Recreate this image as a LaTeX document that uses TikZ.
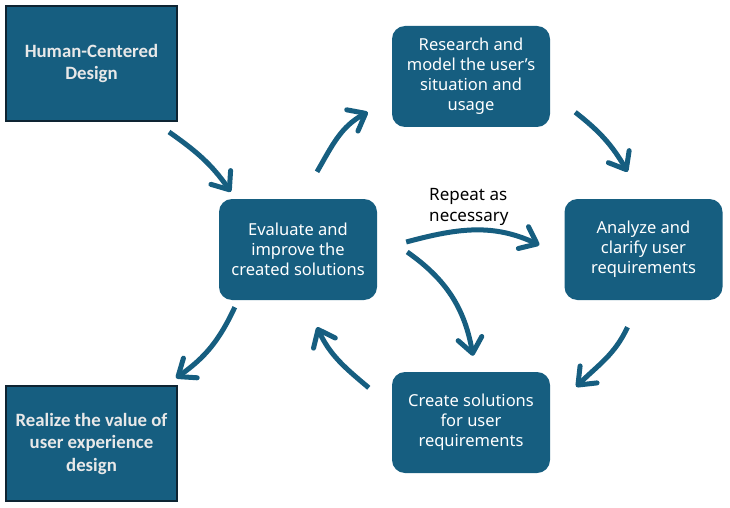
\documentclass[tikz,border=0pt]{standalone}
\usepackage{fontspec}
\setmainfont{Noto Sans}
\newfontfamily\calfont{Carlito}
\usetikzlibrary{arrows.meta}
\definecolor{hcdblue}{RGB}{22,94,128}
\definecolor{hcdedge}{RGB}{14,36,50}
\definecolor{hcdtext}{RGB}{232,232,232}

\begin{document}
\begin{tikzpicture}[
  x=1pt, y=1pt,
  box/.style={fill=hcdblue, rounded corners=13pt, align=center, text=white,
    minimum width=158pt, minimum height=101pt, inner sep=0pt,
    font=\fontsize{16.5}{20}\selectfont},
  endbox/.style={fill=hcdblue, draw=hcdedge, line width=2pt, align=center,
    text=hcdtext, minimum width=171pt, minimum height=115pt, inner sep=0pt,
    font=\calfont\bfseries\fontsize{18.8}{22.5}\selectfont},
  arr/.style={-{Straight Barb[length=15pt, width=24pt, round]}, draw=hcdblue,
    line width=5pt},
  lab/.style={font=\fontsize{17}{21}\selectfont, align=left, text=black,
    inner sep=0pt}
]
\useasboundingbox (0,0) rectangle (730,507);
\node[endbox] (hcd) at (91.5,443.5) {Human-Centered\\Design};
\node[endbox] (real) at (91.5,63.5) {Realize the value of\\user experience\\design};
\node[box] (res) at (471,430.5) {Research and\\model the user's\\situation and\\usage};
\node[box] (ana) at (643.5,257.5) {Analyze and\\clarify user\\requirements};
\node[box] (cre) at (471,84.5) {Create solutions\\for user\\requirements};
\node[box] (eva) at (298,257.5) {Evaluate and\\improve the\\created solutions};
% cycle arrows
\draw[arr] ([xshift=-9pt,yshift=-10pt]hcd.south east) to[out=-35,in=125]
  ([xshift=12pt,yshift=7pt]eva.north west);
\draw[arr] ([xshift=19pt,yshift=27pt]eva.north) to[out=60,in=-152]
  ([xshift=-24pt,yshift=15pt]res.south west);
\draw[arr] ([xshift=25pt,yshift=15pt]res.south east) to[out=-38,in=120]
  ([xshift=-16pt,yshift=27pt]ana.north);
\draw[arr] ([xshift=-16pt,yshift=-27pt]ana.south) to[out=-115,in=45]
  ([xshift=26pt,yshift=-15pt]cre.north east);
\draw[arr] ([xshift=-23pt,yshift=-16pt]cre.north west) to[out=140,in=-65]
  ([xshift=19pt,yshift=-27pt]eva.south);
\draw[arr] ([xshift=16pt,yshift=-7pt]eva.south west) to[out=-115,in=35]
  ([xshift=-2pt,yshift=7pt]real.north east);
% repeat loop
\draw[arr] ([xshift=29pt,yshift=7.5pt]eva.east) to[out=15,in=155]
  node[above=2pt, xshift=-5pt, lab] (rep) {Repeat as\\necessary}
  ([xshift=-25pt,yshift=4.5pt]ana.west);
\draw[arr] ([xshift=30pt,yshift=-2.5pt]eva.east) to[out=-35,in=100]
  ([xshift=2pt,yshift=16pt]cre.north);
\end{tikzpicture}
\end{document}
